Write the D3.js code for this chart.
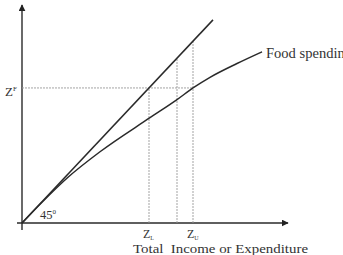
<!DOCTYPE html>
<html>
<head>
<meta charset="utf-8">
<script src="https://cdn.jsdelivr.net/npm/d3@7"></script>
<style>
  body { margin: 0; background: #fff; }
  text { font-family: "Liberation Serif", "DejaVu Serif", serif; fill: #333; }
</style>
</head>
<body>
<svg id="chart" width="343" height="255"></svg>
<script>
// chart values (income units along x, spending units along y)
const lineX = [0, 191];           // 45 degree line
const lineY = [0, 191];
const foodX = [0, 20, 46, 78, 128, 155, 171, 188, 215, 240];
const foodY = [0, 19.5, 43, 67, 99, 116, 127, 137, 150, 161];
const zF = 127;                   // food poverty line level
const zTicks = [127, 155, 171];   // Z_L, middle, Z_U on the income axis
const zLabels = ["L", "", "U"];

const svg = d3.select("#chart"),
      width = +svg.attr("width"),
      height = +svg.attr("height");

const x = d3.scaleLinear().domain([0, 266]).range([22, 288]);
const y = d3.scaleLinear().domain([0, 205]).range([223, 5]);

const ink = "#2a2a2a";

svg.append("defs").append("marker")
    .attr("id", "arrow")
    .attr("viewBox", "0 0 10 10")
    .attr("refX", 9).attr("refY", 5)
    .attr("markerWidth", 7).attr("markerHeight", 7)
    .attr("markerUnits", "userSpaceOnUse")
    .attr("orient", "auto")
  .append("path")
    .attr("d", "M0,0 L10,5 L0,10 Z")
    .attr("fill", "#222");

// axes
svg.append("line")
    .attr("x1", x(0)).attr("y1", y(0) + 7)
    .attr("x2", x(0)).attr("y2", y(205))
    .attr("stroke", ink).attr("stroke-width", 1.4)
    .attr("marker-end", "url(#arrow)");

svg.append("line")
    .attr("x1", x(0) - 5).attr("y1", y(0))
    .attr("x2", x(266)).attr("y2", y(0))
    .attr("stroke", ink).attr("stroke-width", 1.4)
    .attr("marker-end", "url(#arrow)");

// dashed guides
const guide = g => g.attr("stroke", "#999").attr("stroke-width", 0.9)
    .attr("stroke-dasharray", "2,1").attr("fill", "none");

svg.append("line")
    .attr("x1", x(0)).attr("y1", y(zF))
    .attr("x2", x(zTicks[2])).attr("y2", y(zF))
    .call(guide);

zTicks.forEach(z => {
    svg.append("line")
        .attr("x1", x(z)).attr("y1", y(0))
        .attr("x2", x(z)).attr("y2", y(z))
        .call(guide);
});

// 45 degree line
svg.append("path")
    .datum(d3.zip(lineX, lineY))
    .attr("d", d3.line().x(d => x(d[0])).y(d => y(d[1])))
    .attr("stroke", ink).attr("stroke-width", 1.5).attr("fill", "none");

// food spending curve
svg.append("path")
    .datum(d3.zip(foodX, foodY))
    .attr("d", d3.line().x(d => x(d[0])).y(d => y(d[1])).curve(d3.curveMonotoneX))
    .attr("stroke", ink).attr("stroke-width", 1.5).attr("fill", "none");

// labels
const zf = svg.append("text").attr("x", 5).attr("y", y(zF) + 8).style("font-size", "13px");
zf.append("tspan").text("Z");
zf.append("tspan").attr("dy", -5).style("font-size", "7px").text("F");

const deg = svg.append("text").attr("x", 40).attr("y", 219).style("font-size", "12.5px");
deg.append("tspan").text("45");
deg.append("tspan").attr("dy", -5).style("font-size", "7px").text("0");

zTicks.forEach((z, i) => {
    if (!zLabels[i]) return;
    const t = svg.append("text").attr("x", x(z) - 6).attr("y", 238).style("font-size", "12px");
    t.append("tspan").text("Z");
    t.append("tspan").attr("dy", 2).style("font-size", "6px").text(zLabels[i]);
});

svg.append("text")
    .attr("x", 133).attr("y", 253)
    .attr("textLength", 175)
    .attr("lengthAdjust", "spacingAndGlyphs")
    .style("font-size", "13.5px")
    .text("Total\u00a0\u00a0Income or Expenditure");

svg.append("text")
    .attr("x", 266).attr("y", 58)
    .attr("textLength", 86)
    .attr("lengthAdjust", "spacingAndGlyphs")
    .style("font-size", "14px")
    .text("Food spending");
</script>
</body>
</html>
